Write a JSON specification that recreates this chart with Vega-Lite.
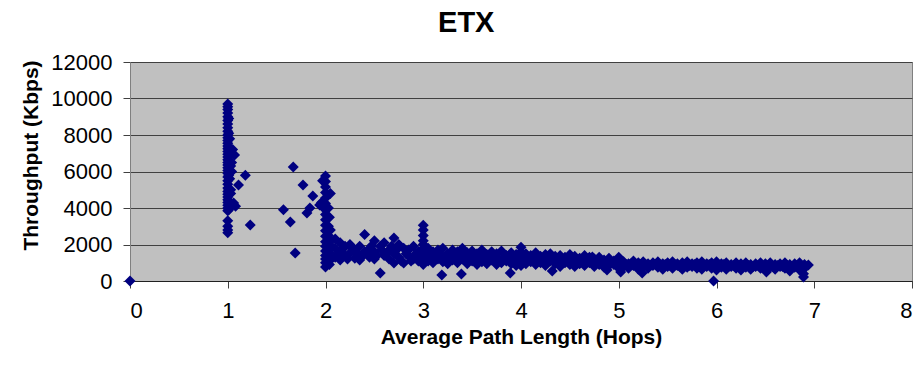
{
  "$schema": "https://vega.github.io/schema/vega-lite/v6.json",
  "autosize": "none",
  "width": 782,
  "height": 219,
  "padding": {"left": 130, "top": 62, "right": 5, "bottom": 88},
  "background": "white",
  "title": {"text": "ETX", "font": "Liberation Sans", "fontSize": 29, "fontWeight": "bold", "color": "black", "anchor": "middle", "frame": "bounds", "baseline": "alphabetic", "offset": -10},
  "config": {
    "view": {"fill": "#C0C0C0", "stroke": "#808080", "strokeWidth": 1},
    "axis": {"labelFont": "Liberation Sans", "titleFont": "Liberation Sans", "labelColor": "black", "titleColor": "black", "labelFontSize": 22, "titleFontSize": 21, "titleFontWeight": "bold", "tickSize": 7, "tickColor": "#404040", "domainColor": "#404040"}
  },
  "data": {"values": [
    {"h":0,"t":0},
    {"h":1.0,"t":9700},{"h":1.0,"t":9550},{"h":1.0,"t":9400},{"h":1.0,"t":9200},{"h":1.0,"t":9000},{"h":1.0,"t":8800},{"h":1.0,"t":8600},{"h":1.0,"t":8400},{"h":1.0,"t":8200},{"h":1.0,"t":8000},{"h":1.0,"t":7850},{"h":1.0,"t":7700},{"h":1.0,"t":7550},{"h":1.0,"t":7400},{"h":1.0,"t":7250},{"h":1.0,"t":7100},{"h":1.0,"t":6950},{"h":1.0,"t":6800},{"h":1.0,"t":6650},{"h":1.0,"t":6500},{"h":1.0,"t":6350},{"h":1.0,"t":6200},{"h":1.0,"t":6050},{"h":1.0,"t":5900},{"h":1.0,"t":5700},{"h":1.0,"t":5500},{"h":1.0,"t":5300},{"h":1.0,"t":5100},{"h":1.0,"t":4900},{"h":1.0,"t":4750},{"h":1.0,"t":4600},{"h":1.0,"t":4450},{"h":1.0,"t":4300},{"h":1.0,"t":4150},{"h":1.0,"t":4000},{"h":1.0,"t":3850},{"h":1.0,"t":3300},{"h":1.0,"t":3000},{"h":1.0,"t":2800},{"h":1.0,"t":2650},
    {"h":1.01,"t":8900},{"h":1.01,"t":8100},{"h":1.01,"t":7300},{"h":1.01,"t":6600},{"h":1.01,"t":5800},{"h":1.01,"t":5000},{"h":1.01,"t":4400},{"h":1.01,"t":3900},
    {"h":1.02,"t":7800},{"h":1.02,"t":7000},{"h":1.03,"t":6300},{"h":1.02,"t":5600},{"h":1.03,"t":4800},{"h":1.02,"t":4200},{"h":1.05,"t":7200},{"h":1.07,"t":6900},{"h":1.04,"t":6000},{"h":1.04,"t":6500},{"h":1.03,"t":5000},{"h":1.11,"t":5260},{"h":1.06,"t":4270},{"h":1.08,"t":4100},{"h":1.18,"t":5800},{"h":1.23,"t":3070},
    {"h":1.57,"t":3900},{"h":1.64,"t":3230},{"h":1.67,"t":6250},{"h":1.69,"t":1530},{"h":1.77,"t":5260},{"h":1.81,"t":3730},{"h":1.84,"t":4000},{"h":1.87,"t":4660},{"h":1.94,"t":4160},
    {"h":2.0,"t":5750},{"h":2.0,"t":5450},{"h":2.0,"t":5150},{"h":2.0,"t":4850},{"h":2.0,"t":4550},{"h":2.0,"t":4250},{"h":2.0,"t":3950},{"h":2.0,"t":3650},{"h":2.0,"t":3350},{"h":2.0,"t":3050},{"h":2.0,"t":2750},{"h":2.0,"t":2450},{"h":2.0,"t":2150},{"h":2.0,"t":1900},{"h":2.0,"t":1650},{"h":2.0,"t":1400},{"h":2.0,"t":1200},{"h":2.0,"t":1000},{"h":2.0,"t":770},
    {"h":1.97,"t":5500},{"h":1.96,"t":4300},{"h":1.97,"t":4050},{"h":2.05,"t":4800},{"h":2.04,"t":3500},{"h":2.05,"t":2800},{"h":2.05,"t":2200},{"h":2.06,"t":1900},{"h":2.05,"t":1500},{"h":2.06,"t":1200},{"h":2.04,"t":900},{"h":2.03,"t":4000},{"h":2.03,"t":3000},{"h":2.03,"t":2500},{"h":2.03,"t":1700},{"h":2.03,"t":1300},
    {"h":2.10,"t":2300},{"h":2.10,"t":1300},{"h":2.10,"t":1800},{"h":2.15,"t":2100},{"h":2.15,"t":1150},{"h":2.15,"t":1600},{"h":2.20,"t":1900},{"h":2.20,"t":1400},{"h":2.25,"t":2000},{"h":2.25,"t":1530},{"h":2.30,"t":1700},{"h":2.30,"t":1250},{"h":2.35,"t":1900},{"h":2.35,"t":1150},{"h":2.40,"t":2550},{"h":2.40,"t":1600},{"h":2.45,"t":1800},{"h":2.45,"t":1300},{"h":2.50,"t":2200},{"h":2.50,"t":1200},{"h":2.50,"t":1600},{"h":2.56,"t":1900},{"h":2.56,"t":440},{"h":2.60,"t":2100},{"h":2.60,"t":1400},{"h":2.65,"t":1700},{"h":2.65,"t":1200},{"h":2.70,"t":2350},{"h":2.70,"t":990},{"h":2.70,"t":1500},{"h":2.75,"t":2000},{"h":2.75,"t":1300},{"h":2.80,"t":1800},{"h":2.80,"t":990},{"h":2.85,"t":1700},{"h":2.85,"t":1350},{"h":2.90,"t":1900},{"h":2.90,"t":1200},{"h":2.95,"t":1600},{"h":2.95,"t":1100},
    {"h":2.125,"t":1450},{"h":2.175,"t":1750},{"h":2.225,"t":1200},{"h":2.275,"t":1800},{"h":2.325,"t":1500},{"h":2.375,"t":1350},{"h":2.425,"t":1500},{"h":2.475,"t":1950},{"h":2.525,"t":1400},{"h":2.575,"t":1700},{"h":2.625,"t":1500},{"h":2.675,"t":1900},{"h":2.725,"t":1700},{"h":2.775,"t":1100},{"h":2.825,"t":1500},{"h":2.875,"t":1100},{"h":2.925,"t":1500},{"h":2.975,"t":1300},
    {"h":3.0,"t":3050},{"h":3.0,"t":2800},{"h":3.0,"t":2500},{"h":3.0,"t":2200},{"h":3.0,"t":2000},{"h":3.0,"t":1800},{"h":3.0,"t":1500},{"h":3.0,"t":1300},{"h":3.0,"t":1100},{"h":3.0,"t":900},
    {"h":3.05,"t":1800},{"h":3.05,"t":1100},{"h":3.05,"t":1400},{"h":3.10,"t":1600},{"h":3.10,"t":1000},{"h":3.15,"t":1700},{"h":3.15,"t":1200},{"h":3.19,"t":330},{"h":3.20,"t":1800},{"h":3.20,"t":1050},{"h":3.25,"t":1500},{"h":3.25,"t":950},{"h":3.30,"t":1700},{"h":3.30,"t":1150},{"h":3.35,"t":1600},{"h":3.35,"t":1000},{"h":3.39,"t":380},{"h":3.40,"t":1800},{"h":3.40,"t":1200},{"h":3.45,"t":1550},{"h":3.45,"t":950},{"h":3.50,"t":1650},{"h":3.50,"t":1100},{"h":3.55,"t":1500},{"h":3.55,"t":900},{"h":3.60,"t":1700},{"h":3.60,"t":1050},{"h":3.65,"t":1450},{"h":3.65,"t":950},{"h":3.70,"t":1600},{"h":3.70,"t":1150},{"h":3.75,"t":1500},{"h":3.75,"t":900},{"h":3.80,"t":1650},{"h":3.80,"t":1000},{"h":3.85,"t":1400},{"h":3.85,"t":1100},{"h":3.89,"t":440},{"h":3.90,"t":1550},{"h":3.90,"t":950},{"h":3.95,"t":1450},{"h":3.95,"t":850},
    {"h":3.025,"t":1450},{"h":3.075,"t":1300},{"h":3.125,"t":1350},{"h":3.175,"t":1450},{"h":3.225,"t":1300},{"h":3.275,"t":1350},{"h":3.325,"t":1400},{"h":3.375,"t":1300},{"h":3.425,"t":1450},{"h":3.475,"t":1300},{"h":3.525,"t":1350},{"h":3.575,"t":1250},{"h":3.625,"t":1350},{"h":3.675,"t":1300},{"h":3.725,"t":1350},{"h":3.775,"t":1200},{"h":3.825,"t":1300},{"h":3.875,"t":1250},{"h":3.925,"t":1200},{"h":3.975,"t":1150},
    {"h":4.0,"t":1850},{"h":4.0,"t":1600},{"h":4.0,"t":1400},{"h":4.0,"t":1200},{"h":4.0,"t":1000},{"h":4.0,"t":850},
    {"h":4.05,"t":1500},{"h":4.05,"t":950},{"h":4.10,"t":1400},{"h":4.10,"t":1050},{"h":4.15,"t":1550},{"h":4.15,"t":900},{"h":4.20,"t":1350},{"h":4.20,"t":1000},{"h":4.25,"t":1450},{"h":4.25,"t":850},{"h":4.30,"t":1500},{"h":4.30,"t":1100},{"h":4.32,"t":550},{"h":4.35,"t":1350},{"h":4.35,"t":950},{"h":4.40,"t":1400},{"h":4.40,"t":800},{"h":4.45,"t":1300},{"h":4.45,"t":1000},{"h":4.50,"t":1450},{"h":4.50,"t":900},{"h":4.55,"t":1350},{"h":4.55,"t":800},{"h":4.60,"t":1250},{"h":4.60,"t":950},{"h":4.65,"t":1400},{"h":4.65,"t":850},{"h":4.70,"t":1300},{"h":4.70,"t":1000},{"h":4.73,"t":1320},{"h":4.75,"t":1200},{"h":4.75,"t":800},{"h":4.80,"t":1300},{"h":4.80,"t":900},{"h":4.85,"t":1150},{"h":4.85,"t":750},{"h":4.88,"t":600},{"h":4.90,"t":1250},{"h":4.90,"t":850},{"h":4.95,"t":1100},{"h":4.95,"t":900},
    {"h":4.025,"t":1250},{"h":4.075,"t":1200},{"h":4.125,"t":1250},{"h":4.175,"t":1150},{"h":4.225,"t":1200},{"h":4.275,"t":1150},{"h":4.325,"t":1250},{"h":4.375,"t":1100},{"h":4.425,"t":1150},{"h":4.475,"t":1200},{"h":4.525,"t":1100},{"h":4.575,"t":1100},{"h":4.625,"t":1150},{"h":4.675,"t":1100},{"h":4.725,"t":1050},{"h":4.775,"t":1000},{"h":4.825,"t":1100},{"h":4.875,"t":1000},{"h":4.925,"t":1050},{"h":4.975,"t":1000},
    {"h":5.0,"t":1300},{"h":5.0,"t":1150},{"h":5.0,"t":1000},{"h":5.0,"t":850},{"h":5.0,"t":700},{"h":5.02,"t":500},
    {"h":5.05,"t":1050},{"h":5.05,"t":800},{"h":5.10,"t":950},{"h":5.10,"t":700},{"h":5.15,"t":1100},{"h":5.15,"t":850},{"h":5.20,"t":1000},{"h":5.20,"t":650},{"h":5.24,"t":440},{"h":5.25,"t":1050},{"h":5.25,"t":800},{"h":5.30,"t":950},{"h":5.30,"t":700},{"h":5.35,"t":1000},{"h":5.35,"t":850},{"h":5.40,"t":1050},{"h":5.40,"t":750},{"h":5.45,"t":950},{"h":5.45,"t":650},{"h":5.50,"t":1000},{"h":5.50,"t":800},{"h":5.55,"t":1050},{"h":5.55,"t":700},{"h":5.60,"t":950},{"h":5.60,"t":850},{"h":5.65,"t":1000},{"h":5.65,"t":650},{"h":5.70,"t":1050},{"h":5.70,"t":750},{"h":5.75,"t":950},{"h":5.75,"t":800},{"h":5.80,"t":1000},{"h":5.80,"t":700},{"h":5.85,"t":1050},{"h":5.85,"t":650},{"h":5.90,"t":950},{"h":5.90,"t":800},{"h":5.95,"t":1000},{"h":5.95,"t":700},{"h":5.97,"t":0},
    {"h":5.025,"t":950},{"h":5.075,"t":900},{"h":5.125,"t":950},{"h":5.175,"t":850},{"h":5.225,"t":900},{"h":5.275,"t":900},{"h":5.325,"t":850},{"h":5.375,"t":900},{"h":5.425,"t":850},{"h":5.475,"t":900},{"h":5.525,"t":850},{"h":5.575,"t":900},{"h":5.625,"t":800},{"h":5.675,"t":900},{"h":5.725,"t":850},{"h":5.775,"t":900},{"h":5.825,"t":850},{"h":5.875,"t":850},{"h":5.925,"t":900},{"h":5.975,"t":850},
    {"h":6.00,"t":1050},{"h":6.00,"t":600},{"h":6.00,"t":850},{"h":6.05,"t":950},{"h":6.05,"t":750},{"h":6.10,"t":1000},{"h":6.10,"t":650},{"h":6.15,"t":900},{"h":6.15,"t":800},{"h":6.20,"t":1000},{"h":6.20,"t":700},{"h":6.25,"t":950},{"h":6.25,"t":600},{"h":6.30,"t":1000},{"h":6.30,"t":750},{"h":6.35,"t":900},{"h":6.35,"t":650},{"h":6.40,"t":950},{"h":6.40,"t":800},{"h":6.45,"t":1000},{"h":6.45,"t":700},{"h":6.50,"t":950},{"h":6.50,"t":600},{"h":6.51,"t":500},{"h":6.55,"t":1000},{"h":6.55,"t":750},{"h":6.60,"t":900},{"h":6.60,"t":650},{"h":6.65,"t":950},{"h":6.65,"t":800},{"h":6.70,"t":1000},{"h":6.70,"t":700},{"h":6.75,"t":900},{"h":6.75,"t":550},{"h":6.80,"t":950},{"h":6.80,"t":750},{"h":6.85,"t":1000},{"h":6.85,"t":600},{"h":6.89,"t":220},{"h":6.89,"t":400},{"h":6.90,"t":900},{"h":6.90,"t":700},{"h":6.94,"t":880},
    {"h":6.025,"t":850},{"h":6.075,"t":900},{"h":6.125,"t":800},{"h":6.175,"t":850},{"h":6.225,"t":850},{"h":6.275,"t":800},{"h":6.325,"t":850},{"h":6.375,"t":800},{"h":6.425,"t":850},{"h":6.475,"t":800},{"h":6.525,"t":850},{"h":6.575,"t":800},{"h":6.625,"t":850},{"h":6.675,"t":800},{"h":6.725,"t":850},{"h":6.775,"t":800},{"h":6.825,"t":850},{"h":6.875,"t":800}
  ]},
  "mark": {"type": "point", "shape": "diamond", "filled": true, "size": 121, "color": "#000080", "opacity": 1, "clip": false},
  "encoding": {
    "x": {"field": "h", "type": "quantitative", "scale": {"domain": [0, 8], "nice": false, "zero": false},
      "axis": {"values": [0,1,2,3,4,5,6,7,8], "grid": false, "format": "d", "labelPadding": 12, "title": "Average Path Length (Hops)", "titleY": 62, "titleBaseline": "alphabetic", "domainColor": "#202020"}},
    "y": {"field": "t", "type": "quantitative", "scale": {"domain": [0, 12000], "nice": false},
      "axis": {"values": [0,2000,4000,6000,8000,10000,12000], "grid": true, "gridColor": "#404040", "gridWidth": 1, "format": "d", "labelPadding": 11, "title": "Throughput (Kbps)", "titleX": -93, "titleY": 93, "titleAngle": -90, "titleAlign": "center", "titleBaseline": "alphabetic", "domainColor": "#808080"}}
  }
}
